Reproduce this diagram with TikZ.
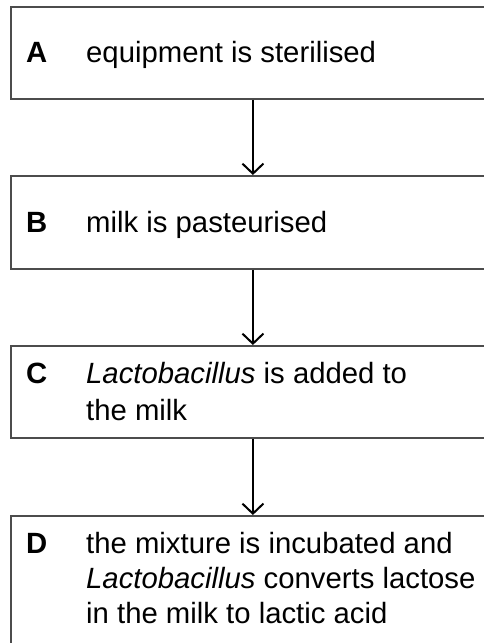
\documentclass[tikz,border=0pt]{standalone}
\usepackage{fontspec}
\setmainfont{Liberation Sans}
\usetikzlibrary{arrows.meta}
\begin{document}
\begin{tikzpicture}[x=1pt,y=-1pt,
  box/.style={draw=black!70,line width=1.8pt,rectangle,minimum width=484pt,anchor=north west,inner sep=0pt},
  lbl/.style={anchor=base west,inner sep=0pt,font=\fontsize{29.3}{35}\selectfont\bfseries},
  txt/.style={anchor=base west,inner sep=0pt,font=\fontsize{29.3}{35}\selectfont},
  arr/.style={line width=2pt,-{Straight Barb[length=10pt,width=21pt,line width=2pt]}}]
\useasboundingbox (0,0) rectangle (484,643);
\clip (0,0) rectangle (484,643);
\fill[white] (0,0) rectangle (484,643);
\node[box,minimum height=92pt] (A) at (10,6) {};
\node[box,minimum height=93pt] (B) at (10,175) {};
\node[box,minimum height=92pt] (C) at (10,345) {};
\node[box,minimum height=150pt] (D) at (10,515) {};
\draw[arr] (A.south) -- (B.north);
\draw[arr] (B.south) -- (C.north);
\draw[arr] (C.south) -- (D.north);
\node[lbl] (la) at (26,62) {A};
\node[txt] (ta) at (86,62) {equipment is sterilised};
\node[lbl] (lb) at (26,232) {B};
\node[txt] (tb) at (86,232) {milk is pasteurised};
\node[lbl] (lc) at (26,383) {C};
\node[txt] (tc1) at (86,383) {\textit{Lactobacillus} is added to};
\node[txt] (tc2) at (86,420) {the milk};
\node[lbl] (ld) at (26,553) {D};
\node[txt] (td1) at (86,553) {the mixture is incubated and};
\node[txt] (td2) at (86,588) {\textit{Lactobacillus} converts lactose};
\node[txt] (td3) at (86,623) {in the milk to lactic acid};
\end{tikzpicture}
\end{document}
